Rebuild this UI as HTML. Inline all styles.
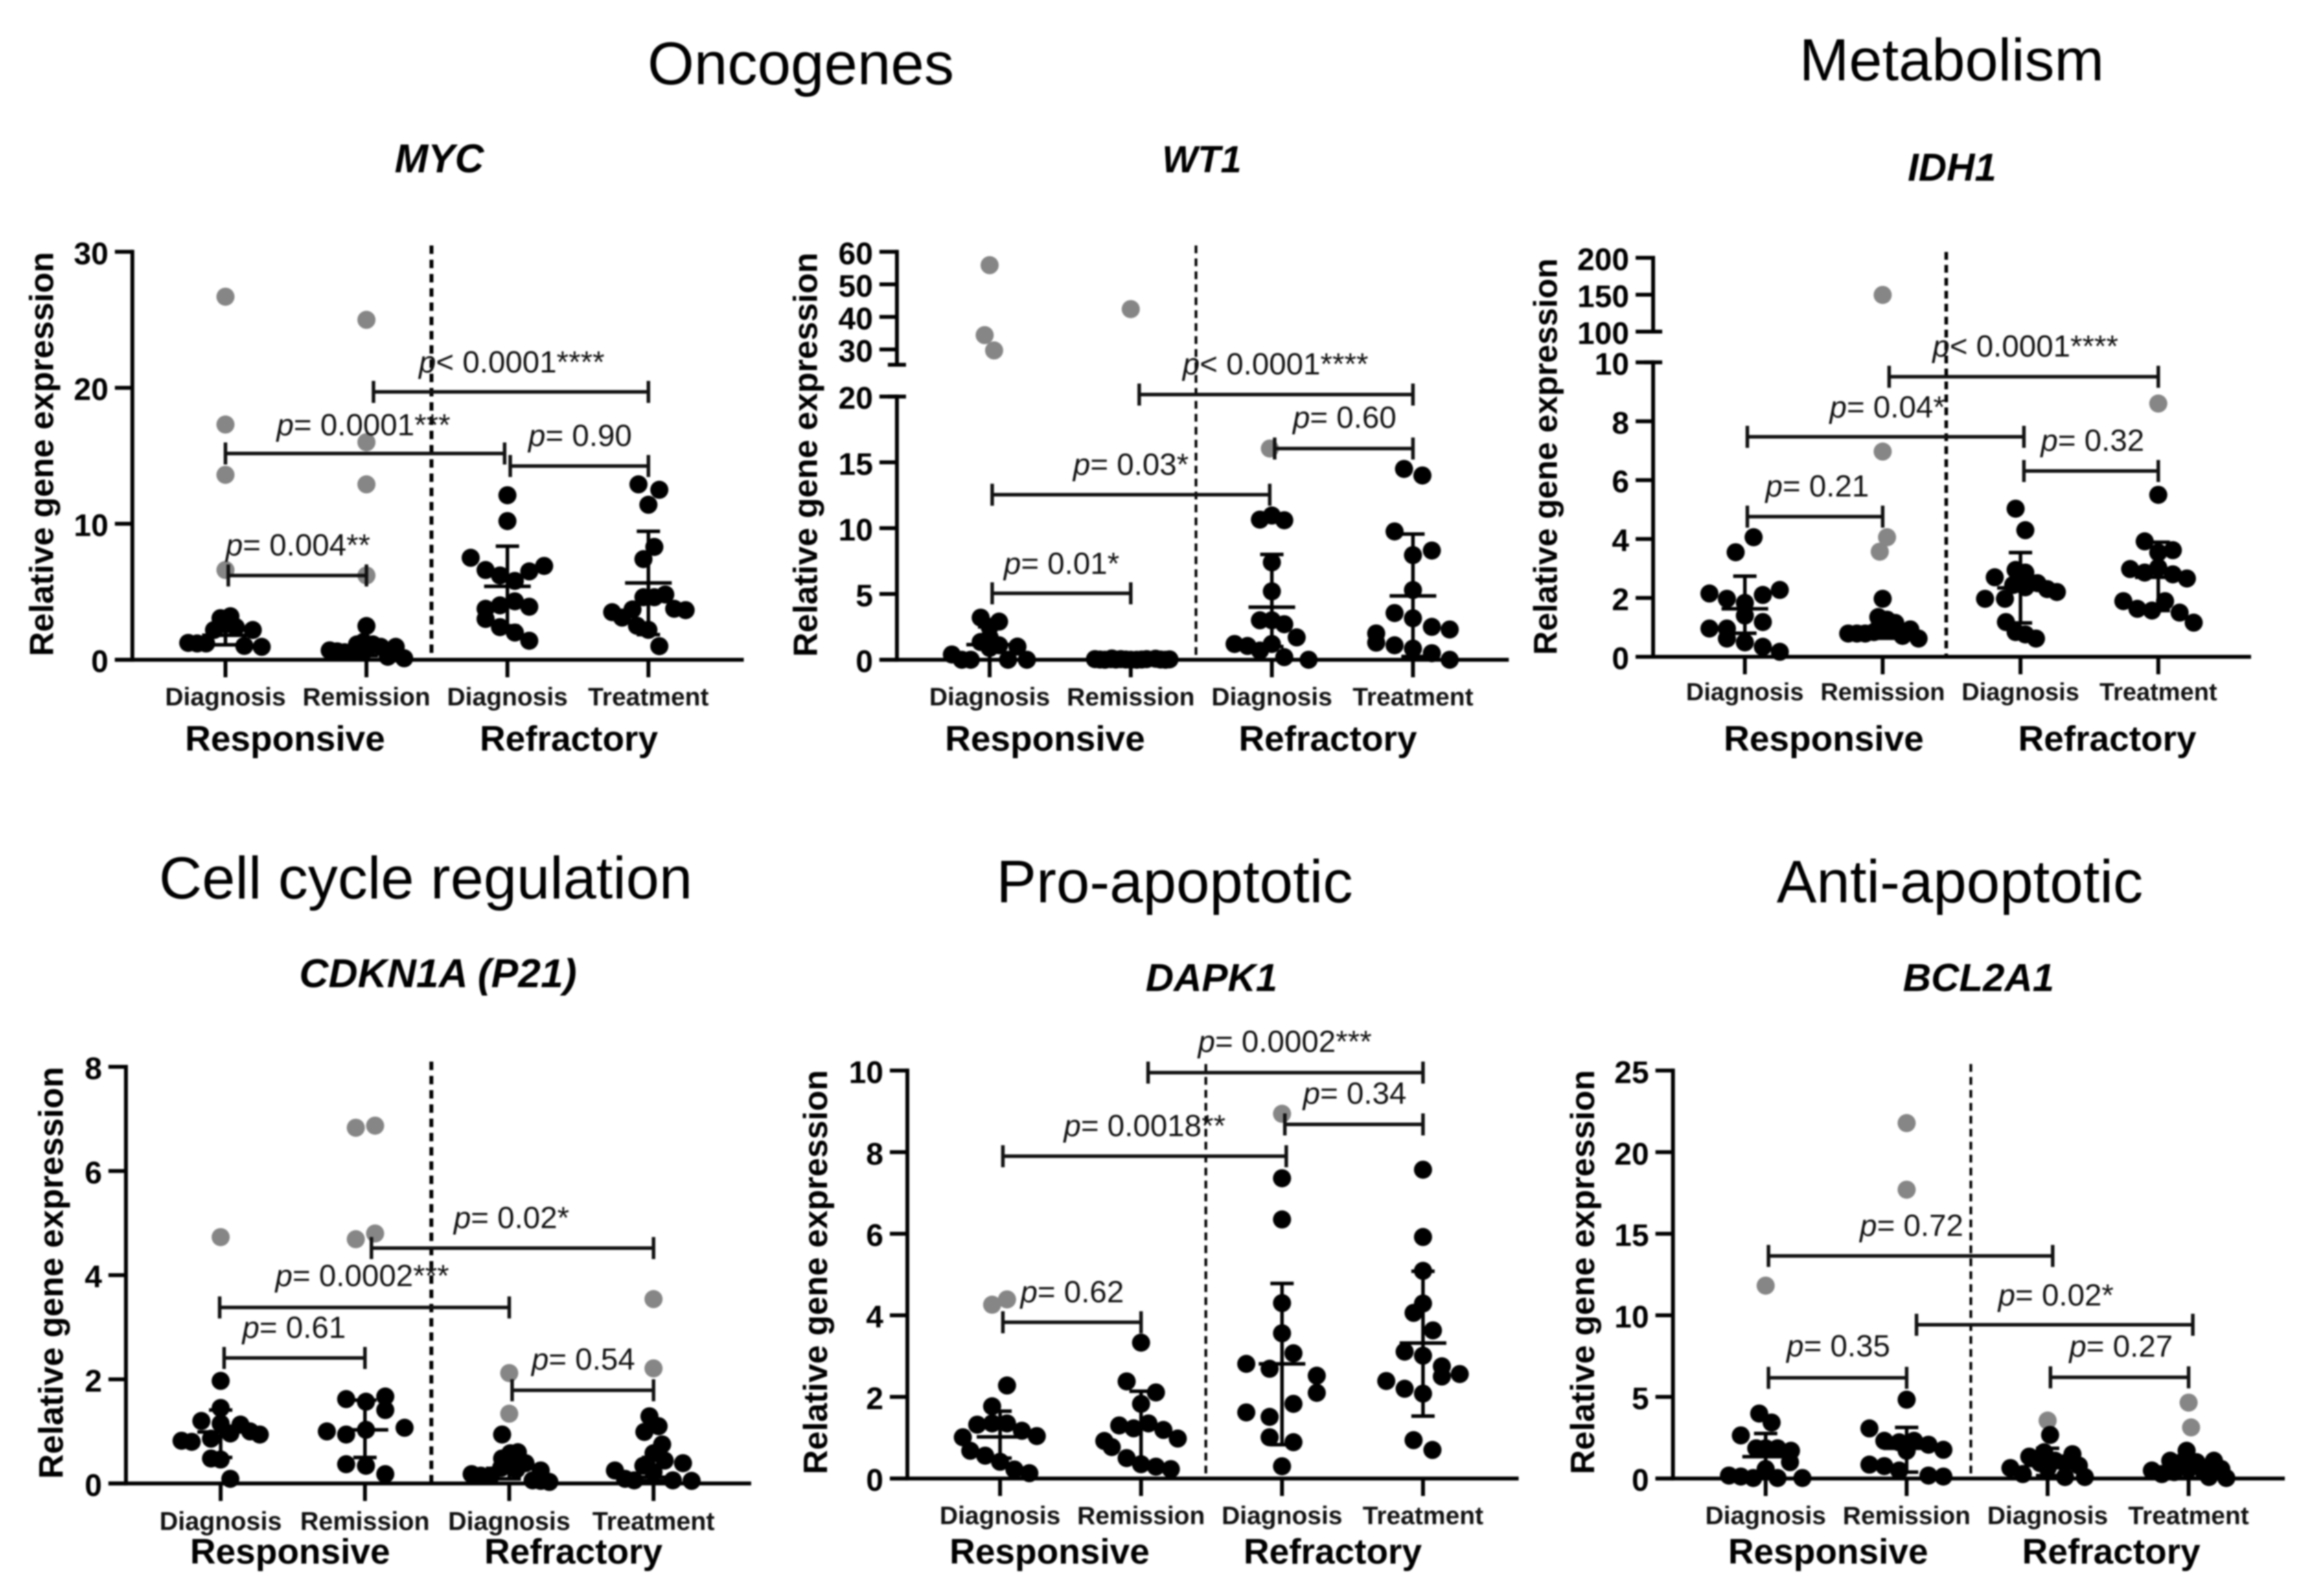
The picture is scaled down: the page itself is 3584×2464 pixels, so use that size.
<!DOCTYPE html>
<html lang="en">
<head>
<meta charset="utf-8">
<title>Relative gene expression panels</title>
<style>
html,body{margin:0;padding:0;background:#fff;width:3584px;height:2464px;overflow:hidden}
svg{display:block;filter:blur(1.2px)}
text{font-family:"Liberation Sans",Arial,sans-serif}
</style>
</head>
<body>
<svg id="figure" xmlns="http://www.w3.org/2000/svg" width="3584" height="2464" viewBox="0 0 3584 2464">
<rect x="0" y="0" width="3584" height="2464" fill="#ffffff"/>
<text x="1236" y="130" font-size="92.5" text-anchor="middle">Oncogenes</text>
<text x="3012.5" y="124" font-size="92" text-anchor="middle">Metabolism</text>
<text x="657" y="1387" font-size="92" text-anchor="middle">Cell cycle regulation</text>
<text x="1813" y="1393" font-size="92.5" text-anchor="middle">Pro-apoptotic</text>
<text x="3025" y="1393" font-size="92.5" text-anchor="middle">Anti-apoptotic</text>
<g font-weight="700" font-style="italic" font-size="60" text-anchor="middle">
<text x="678" y="266" font-size="62">MYC</text>
<text x="1855" y="266" font-size="58">WT1</text>
<text x="3013" y="279">IDH1</text>
<text x="676" y="1524" font-size="62.5">CDKN1A (P21)</text>
<text x="1870" y="1530">DAPK1</text>
<text x="3054" y="1530">BCL2A1</text>
</g>
</svg>
<script>
// Shared categories
const categoryLabels = ['Diagnosis', 'Remission', 'Diagnosis', 'Treatment'];
const groupLabels = ['Responsive', 'Refractory'];
const yAxisTitle = 'Relative gene expression';

// MYC
const mycTicks = [0, 10, 20, 30];
const mycValues = [
  [1.24,1.2,1.2,1.02,0.95,2.19,2.19,2.4,2.6,3.06,3.2],
  [2.48,1.31,1.13,1.13,0.95,0.95,0.69,0.62,0.55,0.55,0.62,0.77,0.22,0.47,0.11],
  [12.1,10.2,7.5,6.6,6.2,5.8,6.5,6.9,3.75,4,4.3,3.9,3,2.4,2,1.4],
  [12.9,12.5,11.4,8.3,7.4,4.6,4.6,4.8,3.75,3.65,3.5,3.1,3.7,2.5,2.2,1]
];
const mycJitter = [
  [-75,-57,-39,38,73,55,-23,21,0,-10,10],
  [0,-6,-19,13,29,59,-74,-59,-44,-29,-14,1,43,59,76],
  [0,0,-74,-44,-15,15,44,74,-44,-15,15,44,-44,-15,15,44],
  [-20,22,0,12,-10,-10,12,34,52,75,-73,-53,-32,-23,0,22]
];
const mycOutliers = [[26.7,17.3,13.6,6.6],[25,16,12.9,6.2],[],[]];
const mycOutlierJitter = [[0,0,0,0],[0,0,0,0],[],[]];
const mycMid = [1.8,0.7,5.4,5.65];
const mycLow = [1.1,0.3,2.5,1.85];
const mycHigh = [2.8,1.3,8.35,9.45];
const mycBracketFrom = [0.02,0,1.05,2.02];
const mycBracketTo = [1,1.98,3,3];
const mycBracketLevel = [6.2,15.17,19.7,14.25];
const mycBracketText = ['= 0.004**','= 0.0001***','< 0.0001****','= 0.90'];

// WT1
const wt1Ticks = [0,5,10,15,20,30,40,50,60];
const wt1Values = [
  [0.4,0,0,3.2,2.9,2.5,1.7,1.35,1.1,1,0,0,0.9],
  [0.05,0.02,0,0.05,0.02,0.1,0.05,0.02,0,0,0.02,0.05,0.08,0.02,0,0.03],
  [10.96,10.65,10.6,7.4,5.2,3,3,2.7,1.7,1.2,1.05,0.7,1.2,0.2,0],
  [14.5,14,9.75,8.3,7.95,5.3,3.55,3.15,2.5,2.3,2,1.3,1.1,0.85,0.5,0]
];
const wt1Jitter = [
  [-76,-56,-38,-18,19,0,0,-18,19,56,37,75,0],
  [-72,-62,-52,-40,-30,-38,-20,-10,0,12,22,32,50,60,70,78],
  [0,-24,25,0,0,-24,0,25,50,-75,-49,-24,0,25,74],
  [-18,19,-37,38,0,0,-37,0,38,74,-74,-74,-37,0,38,74]
];
const wt1Outliers = [[55.9,34.4,29.7],[42.4],[16.05],[]];
const wt1OutlierJitter = [[0,-10,9],[0],[-4],[]];
const wt1Mid = [1.15,0.05,4,4.85];
const wt1Low = [0,0,1,0.25];
const wt1High = [2.5,0.1,8,9.55];
const wt1BracketFrom = [0.018,0.018,1.06,2.02];
const wt1BracketTo = [1,1.985,3,3];
const wt1BracketLevel = [5.05,12.54,20.15,16.05];
const wt1BracketText = ['= 0.01*','= 0.03*','< 0.0001****','= 0.60'];

// IDH1
const idh1Ticks = [0,2,4,6,8,10,100,150,200];
const idh1Values = [
  [4.06,3.55,2.15,1.97,1.83,2.1,2.27,1.4,0.96,0.96,1.18,0.62,0.49,0.34,0.17],
  [1.97,1.35,1.26,1.15,0.93,0.79,0.79,0.79,0.84,0.88,0.93,0.71,0.62],
  [5.03,4.3,2.95,2.86,2.7,2.5,2.44,2.36,2.3,2.2,1.97,1.97,1.18,0.84,0.76,0.62],
  [5.5,3.92,3.62,3.54,3.03,2.98,2.86,2.8,2.66,1.89,1.89,1.63,1.57,1.5,1.16]
];
const idh1Jitter = [
  [18,-19,-73,-37,0,37,72,0,-73,-37,37,-37,0,37,72],
  [0,-9,9,26,57,-71,-53,-36,-18,0,19,41,74],
  [-10,10,-10,10,-53,35,-15,10,55,75,-73,-32,-30,-10,10,32],
  [0,-28,30,0,0,-58,-28,30,59,-72,14,-43,-13,44,73]
];
const idh1Outliers = [[],[149.7,6.97,4.06,3.57],[],[8.6]];
const idh1OutlierJitter = [[],[0,0,9,-6],[],[0]];
const idh1Mid = [1.63,1,2.34,2.7];
const idh1Low = [0.8,0.63,1.15,1.57];
const idh1High = [2.74,1.15,3.54,3.89];
const idh1BracketFrom = [0.018,0.018,1.047,2.025];
const idh1BracketTo = [1,2.025,3,3];
const idh1BracketLevel = [4.76,7.47,9.51,6.31];
const idh1BracketText = ['= 0.21','= 0.04*','< 0.0001****','= 0.32'];

// CDKN1A
const cdknTicks = [0,2,4,6,8];
const cdknValues = [
  [1.97,1.45,1.2,1.15,1.13,0.82,0.8,0.86,0.96,1,0.94,0.48,0.46,0.09],
  [1.62,1.57,1.67,1.41,1,0.94,1.03,1.07,0.37,0.34,0.18],
  [0.94,0.6,0.58,0.48,0.39,0.41,0.25,0.18,0.15,0.15,0.3,0.27,0.06,0.05,0.03],
  [1.29,1.1,0.99,0.75,0.58,0.44,0.34,0.39,0.25,0.09,0.06,0.22,0.06,0.05]
];
const cdknJitter = [
  [0,0,-38,0,39,-77,-57,-19,19,58,77,-19,0,19],
  [-37,2,40,40,-75,-37,2,78,-37,2,40],
  [-14,17,2,-14,32,2,62,-74,-56,-36,-16,14,46,62,79],
  [-8,10,-18,17,0,22,-20,58,-76,-56,-38,0,38,75]
];
const cdknOutliers = [[4.73],[6.83,6.87,4.69,4.8],[2.12,1.34],[3.54,2.21]];
const cdknOutlierJitter = [[0],[-18,20,-18,20],[0,0],[0,0]];
const cdknMid = [0.99,1.03,0.29,0.12];
const cdknLow = [0.5,0.5,0.09,0.05];
const cdknHigh = [1.41,1.6,0.53,0.5];
const cdknBracketFrom = [0.024,-0.007,1.045,2.02];
const cdknBracketTo = [1,2,3,3];
const cdknBracketLevel = [2.41,3.38,4.52,1.79];
const cdknBracketText = ['= 0.61','= 0.0002***','= 0.02*','= 0.54'];

// DAPK1
const dapkTicks = [0,2,4,6,8,10];
const dapkValues = [
  [2.28,1.77,1.32,1.35,1.35,1.17,1.01,1.04,0.68,0.56,0.41,0.22,0.13],
  [3.33,2.38,2.11,1.83,1.3,1.23,1.35,1.19,0.98,0.92,0.77,0.5,0.35,0.29,0.23],
  [7.36,6.35,4.3,3.56,3.07,2.81,2.69,2.52,2.1,1.83,1.62,1.51,1.01,0.89,0.3],
  [7.57,5.92,5.09,4.29,4.06,3.63,3.11,3.01,2.75,2.5,2.56,2.39,2.2,2.08,0.94,0.7]
];
const dapkJitter = [
  [14,-16,-46,-16,14,44,-75,74,-60,-30,0,29,59],
  [0,-29,30,0,-44,-15,15,45,74,-74,-59,-29,0,30,60],
  [0,0,0,0,23,-72,-25,70,70,23,-72,-25,-25,23,0],
  [0,0,0,0,-19,20,-37,0,38,38,74,-74,-37,0,-19,19]
];
const dapkOutliers = [[4.26,4.39],[],[8.94],[]];
const dapkOutlierJitter = [[-16,14],[],[0],[]];
const dapkMid = [1.02,1.29,2.81,3.32];
const dapkLow = [0.5,0.38,0.83,1.53];
const dapkHigh = [1.65,2.14,4.78,5.08];
const dapkBracketFrom = [0.02,0.02,1.05,2.02];
const dapkBracketTo = [1,2.03,3,3];
const dapkBracketLevel = [3.83,7.9,9.95,8.68];
const dapkBracketText = ['= 0.62','= 0.0018**','= 0.0002***','= 0.34'];

// BCL2A1
const bclTicks = [0,5,10,15,20,25];
const bclValues = [
  [3.98,3.43,2.64,1.85,1.85,1.85,1.7,1,0.58,0.18,0.12,0.03,0.03,0.03],
  [4.83,3.07,2.31,2.22,2.31,2.07,1.76,1.7,0.85,0.76,0.49,0.18,0.12],
  [2.67,1.34,1.61,1.49,0.94,1.09,0.94,0.79,0.64,0.27,0.64,0.09,0.09],
  [1.7,1.09,1,1,1.09,0.49,0.27,0.39,0.58,0.39,0.58,0.09,0.03]
];
const bclJitter = [
  [-13,12,-50,-19,0,24,51,49,0,-74,-50,-25,24,74],
  [0,-75,-45,-15,15,44,74,0,-75,-45,-15,44,74],
  [5,-37,-7,50,-15,15,35,63,-75,-50,0,35,75],
  [-4,-37,-14,16,51,-74,-54,-29,0,31,66,41,76]
];
const bclOutliers = [[11.82],[21.78,17.7],[3.55],[4.65,3.13]];
const bclOutlierJitter = [[0],[0,0],[0],[0,5]];
const bclMid = [1.34,1.85,0.8,0.33];
const bclLow = [0.03,0.39,0.18,0.03];
const bclHigh = [2.76,3.13,1.85,1.25];
const bclBracketFrom = [0.02,0.02,1.07,2.02];
const bclBracketTo = [1,2.036,3.03,3];
const bclBracketLevel = [6.17,13.64,9.42,6.2];
const bclBracketText = ['= 0.35','= 0.72','= 0.02*','= 0.27'];

// Layout (pixels live here, never in the data arrays above)
const NS = 'http://www.w3.org/2000/svg';
const svg = document.getElementById('figure');
const JITTER_UNITS_PER_CATEGORY = 284;
const AXIS_WIDTH = 6;
const BAR_WIDTH = 5.5;
const BRACKET_WIDTH = 5.5;

const panels = [
  { id:'myc', ticks:mycTicks, values:mycValues, jitter:mycJitter, outliers:mycOutliers, outlierJitter:mycOutlierJitter,
    mid:mycMid, low:mycLow, high:mycHigh, bFrom:mycBracketFrom, bTo:mycBracketTo, bLevel:mycBracketLevel, bText:mycBracketText,
    labelOffset:[[-4,-31],[79,-28],[70,-30],[28,-31]],
    axisX:204.3, right:1148, lower:{d0:0,p0:1018.6,d1:30,p1:388.8},
    cat0:348, catStep:217.6, divider:{x:666,top:379,width:6,dash:'13 9'},
    catSize:39, catBase:1089, groupBase:1159, groupX:[440,878],
    titleX:82, titleY:701, titleSize:52 },
  { id:'wt1', ticks:wt1Ticks, values:wt1Values, jitter:wt1Jitter, outliers:wt1Outliers, outlierJitter:wt1OutlierJitter,
    mid:wt1Mid, low:wt1Low, high:wt1High, bFrom:wt1BracketFrom, bTo:wt1BracketTo, bLevel:wt1BracketLevel, bText:wt1BracketText,
    labelOffset:[[18,-30],[125,-31],[67,-31],[28,-32]],
    axisX:1384.4, right:2328.8, lower:{d0:0,p0:1018.6,d1:20,p1:612.2},
    upper:{d0:30,p0:539.5,d1:60,p1:388.8,capValue:25.3},
    cat0:1527.5, catStep:217.8, divider:{x:1846,top:379,width:4.2,dash:'12 8'},
    catSize:39, catBase:1089, groupBase:1159, groupX:[1613,2049.5],
    titleX:1261, titleY:702, titleSize:52 },
  { id:'idh1', ticks:idh1Ticks, values:idh1Values, jitter:idh1Jitter, outliers:idh1Outliers, outlierJitter:idh1OutlierJitter,
    mid:idh1Mid, low:idh1Low, high:idh1High, bFrom:idh1BracketFrom, bTo:idh1BracketTo, bLevel:idh1BracketLevel, bText:idh1BracketText,
    labelOffset:[[28,-31],[127,-30],[67,-31],[26,-31]],
    axisX:2551.6, right:3474.5, lower:{d0:0,p0:1014,d1:10,p1:559.4},
    upper:{d0:100,p0:512,d1:200,p1:398,capValue:100},
    cat0:2693.2, catStep:212.7, divider:{x:3004,top:389,width:5.5,dash:'12 8'},
    catSize:38, catBase:1081, groupBase:1159, groupX:[2815,3252.6],
    titleX:2403, titleY:705, titleSize:51 },
  { id:'cdkn1a', ticks:cdknTicks, values:cdknValues, jitter:cdknJitter, outliers:cdknOutliers, outlierJitter:cdknOutlierJitter,
    mid:cdknMid, low:cdknLow, high:cdknHigh, bFrom:cdknBracketFrom, bTo:cdknBracketTo, bLevel:cdknBracketLevel, bText:cdknBracketText,
    labelOffset:[[28,-31],[86,-33],[127,-31],[30,-32]],
    axisX:194.4, right:1159.4, lower:{d0:0,p0:2290.3,d1:8,p1:1647},
    cat0:340.6, catStep:222.7, divider:{x:665.8,top:1639,width:6,dash:'13 9'},
    catSize:39.5, catBase:2362, groupBase:2414, groupX:[447.7,885],
    titleX:97, titleY:1965, titleSize:53 },
  { id:'dapk1', ticks:dapkTicks, values:dapkValues, jitter:dapkJitter, outliers:dapkOutliers, outlierJitter:dapkOutlierJitter,
    mid:dapkMid, low:dapkLow, high:dapkHigh, bFrom:dapkBracketFrom, bTo:dapkBracketTo, bLevel:dapkBracketLevel, bText:dapkBracketText,
    labelOffset:[[27,-31],[94,-31],[77,-32],[28,-32]],
    axisX:1400.5, right:2344, lower:{d0:0,p0:2282.6,d1:10,p1:1652.8},
    cat0:1543.6, catStep:217.6, divider:{x:1861.2,top:1642.8,width:4.2,dash:'12 8'},
    catSize:39, catBase:2353, groupBase:2414, groupX:[1620,2057],
    titleX:1276.5, titleY:1964, titleSize:52 },
  { id:'bcl2a1', ticks:bclTicks, values:bclValues, jitter:bclJitter, outliers:bclOutliers, outlierJitter:bclOutlierJitter,
    mid:bclMid, low:bclLow, high:bclHigh, bFrom:bclBracketFrom, bTo:bclBracketTo, bLevel:bclBracketLevel, bText:bclBracketText,
    labelOffset:[[28,-33],[141,-31],[126,-30],[29,-32]],
    axisX:2582.2, right:3526.6, lower:{d0:0,p0:2282.6,d1:25,p1:1652.8},
    cat0:2725.3, catStep:217.6, divider:{x:3042,top:1642.8,width:4.2,dash:'12 8'},
    catSize:39, catBase:2353, groupBase:2414, groupX:[2821.7,3258.7],
    titleX:2460.5, titleY:1964, titleSize:52 }
];

function segmentScale(seg, v) {
  return seg.p0 + (v - seg.d0) * (seg.p1 - seg.p0) / (seg.d1 - seg.d0);
}
function makeYScale(panel) {
  return function (v) {
    if (panel.upper && v >= panel.upper.capValue) return segmentScale(panel.upper, v);
    return segmentScale(panel.lower, v);
  };
}
function makeXScale(panel) {
  return function (categoryPosition) {
    return panel.cat0 + categoryPosition * panel.catStep;
  };
}
function shape(tag, attrs, parent) {
  const el = document.createElementNS(NS, tag);
  Object.keys(attrs).forEach(function (k) { el.setAttribute(k, attrs[k]); });
  parent.appendChild(el);
  return el;
}

panels.forEach(function (panel) {
  const x = makeXScale(panel);
  const y = makeYScale(panel);
  const jitterPx = panel.catStep / JITTER_UNITS_PER_CATEGORY;

  const g = shape('g', {}, svg);
  
  

  // Outlier points (grey)
  panel.outliers.forEach(function (list, c) {
    list.forEach(function (v, i) {
      const dot = shape('circle', { cx: x(c) + panel.outlierJitter[c][i] * jitterPx, cy: y(v), r: 14, fill: '#868686' }, g);
      
      
    });
  });

  // Data points (black)
  panel.values.forEach(function (list, c) {
    list.forEach(function (v, i) {
      const dot = shape('circle', { cx: x(c) + panel.jitter[c][i] * jitterPx, cy: y(v), r: 14, fill: '#000' }, g);
      
      
    });
  });

  // Median and range bars
  panel.mid.forEach(function (v, c) {
    const cx = x(c);
    const stem = shape('line', { x1: cx, x2: cx, y1: y(panel.low[c]), y2: y(panel.high[c]), stroke: '#000', 'stroke-width': BAR_WIDTH }, g);
    
    
    const midLine = shape('line', { x1: cx - 36, x2: cx + 36, y1: y(v), y2: y(v), stroke: '#000', 'stroke-width': BAR_WIDTH }, g);
    
    
    const lowCap = shape('line', { x1: cx - 18, x2: cx + 18, y1: y(panel.low[c]), y2: y(panel.low[c]), stroke: '#000', 'stroke-width': BAR_WIDTH }, g);
    
    
    const highCap = shape('line', { x1: cx - 18, x2: cx + 18, y1: y(panel.high[c]), y2: y(panel.high[c]), stroke: '#000', 'stroke-width': BAR_WIDTH }, g);
    
    
  });

  // Divider between responsive and refractory
  const divider = shape('line', { x1: panel.divider.x, x2: panel.divider.x, y1: panel.divider.top, y2: panel.lower.p0, stroke: '#000', 'stroke-width': panel.divider.width, 'stroke-dasharray': panel.divider.dash }, g);
  
  

  // Y axis
  const lowerAxis = shape('line', { x1: panel.axisX, x2: panel.axisX, y1: panel.lower.p0 + 3, y2: panel.lower.p1 - 3, stroke: '#000', 'stroke-width': AXIS_WIDTH }, g);
  
  
  if (panel.upper) {
    const capY = y(panel.upper.capValue);
    const upperAxis = shape('line', { x1: panel.axisX, x2: panel.axisX, y1: capY, y2: panel.upper.p1 - 3, stroke: '#000', 'stroke-width': AXIS_WIDTH }, g);
    
    
    const breakTop = shape('line', { x1: panel.axisX - 14, x2: panel.axisX + 14, y1: capY, y2: capY, stroke: '#000', 'stroke-width': AXIS_WIDTH }, g);
    
    
    const breakBottom = shape('line', { x1: panel.axisX - 14, x2: panel.axisX + 14, y1: panel.lower.p1, y2: panel.lower.p1, stroke: '#000', 'stroke-width': AXIS_WIDTH }, g);
    
    
  }
  panel.ticks.forEach(function (t) {
    const ty = y(t);
    const tick = shape('line', { x1: panel.axisX - 27, x2: panel.axisX, y1: ty, y2: ty, stroke: '#000', 'stroke-width': AXIS_WIDTH }, g);
    
    
    const label = shape('text', { x: panel.axisX - 37, y: ty + 19, 'font-size': 48, 'font-weight': 700, 'text-anchor': 'end' }, g);
    label.textContent = String(t);
    
    
  });

  // X axis
  const xAxis = shape('line', { x1: panel.axisX - 27, x2: panel.right, y1: panel.lower.p0, y2: panel.lower.p0, stroke: '#000', 'stroke-width': AXIS_WIDTH }, g);
  
  
  categoryLabels.forEach(function (name, c) {
    const tick = shape('line', { x1: x(c), x2: x(c), y1: panel.lower.p0, y2: panel.lower.p0 + 27, stroke: '#000', 'stroke-width': AXIS_WIDTH }, g);
    
    
    const label = shape('text', { x: x(c), y: panel.catBase, 'font-size': panel.catSize, 'font-weight': 700, 'text-anchor': 'middle', fill: '#111' }, g);
    label.textContent = name;
    
    
  });
  groupLabels.forEach(function (name, i) {
    const label = shape('text', { x: panel.groupX[i], y: panel.groupBase, 'font-size': 55, 'font-weight': 700, 'text-anchor': 'middle' }, g);
    label.textContent = name;
    
    
  });

  // Y axis title
  const yTitle = shape('text', { x: panel.titleX, y: panel.titleY, 'font-size': panel.titleSize, 'font-weight': 700, 'text-anchor': 'middle', transform: 'rotate(-90 ' + panel.titleX + ' ' + panel.titleY + ')' }, g);
  yTitle.textContent = yAxisTitle;
  
  

  // Significance brackets
  panel.bText.forEach(function (text, i) {
    const x1 = x(panel.bFrom[i]);
    const x2 = x(panel.bTo[i]);
    const by = y(panel.bLevel[i]);
    const bar = shape('line', { x1: x1, x2: x2, y1: by, y2: by, stroke: '#111', 'stroke-width': BRACKET_WIDTH }, g);
    
    
    const capA = shape('line', { x1: x1, x2: x1, y1: by - 17, y2: by + 17, stroke: '#111', 'stroke-width': BRACKET_WIDTH }, g);
    
    
    const capB = shape('line', { x1: x2, x2: x2, y1: by - 17, y2: by + 17, stroke: '#111', 'stroke-width': BRACKET_WIDTH }, g);
    
    
    const label = shape('text', { x: x1 + panel.labelOffset[i][0], y: by + panel.labelOffset[i][1], 'font-size': 47.5, fill: '#111' }, g);
    
    
    const pSpan = shape('tspan', { 'font-style': 'italic' }, label);
    pSpan.textContent = 'p';
    const restSpan = shape('tspan', {}, label);
    restSpan.textContent = text;
  });
});
</script>
</body>
</html>
